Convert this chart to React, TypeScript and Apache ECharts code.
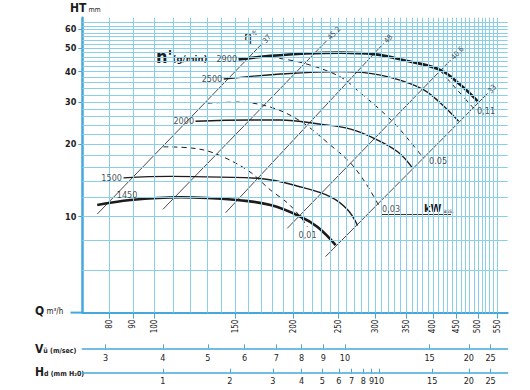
import React, { useEffect, useRef } from 'react';
import * as echarts from 'echarts';

// ---- axis ticks / labels ----
const qTicks = [80, 90, 100, 150, 200, 250, 300, 350, 400, 450, 500, 550];
const hTicks = [10, 20, 30, 40, 50, 60];
const gridQ = [80, 90, 100, 110, 120, 130, 140, 150, 160, 170, 180, 190, 200, 210, 220, 230, 240, 250, 260, 270, 280, 290, 300, 310, 320, 330, 340, 350, 360, 370, 380, 390, 400, 410, 420, 430, 440, 450, 460, 470, 480, 490, 500, 510, 520, 530, 540, 550];
const gridH = [6, 8, 10, 12, 14, 16, 18, 20, 22, 24, 26, 28, 30, 32, 34, 36, 38, 40, 42, 44, 46, 48, 50, 52, 54, 56, 58, 60, 62, 64];

// nomogram scales: value labels and the flow Q at which they sit
const vLabels = ['3', '4', '5', '6', '7', '8', '9', '10', '15', '20', '25'];
const vAtQ = [78.6, 104.5, 130.6, 156.8, 183.6, 208.2, 231.9, 258.2, 393.3, 478.2, 532.7];
const hdLabels = ['1', '2', '3', '4', '5', '6', '7', '8', '9', '10', '15', '20', '25'];
const hdAtQ = [104.5, 145.8, 180.5, 208.2, 230.7, 250.6, 266.9, 282.9, 294.8, 305.8, 398.6, 478.2, 532.7];

// ---- speed curves (Q m3/h, HT mm) ----
const n2900 = [[152.2, 45.0], [178.4, 46.5], [212.4, 47.6], [252.8, 48.0], [297.8, 47.3], [352.6, 44.3], [415.5, 40.6], [458.9, 35.2], [499.4, 30.2]];
const n2500 = [[141.4, 37.3], [187.6, 39.1], [252.8, 40.0], [308.3, 38.7], [376.2, 34.2], [415.5, 29.6], [454.4, 24.9]];
const n2000 = [[122.9, 24.9], [161.6, 25.2], [187.6, 25.2], [228.8, 24.2], [265.6, 23.1], [297.8, 21.2], [335.6, 18.6], [361.5, 15.9]];
const n1500 = [[85.9, 14.5], [108.5, 14.7], [139.2, 14.6], [169.8, 14.4], [210.3, 13.2], [240.5, 12.1], [261.7, 10.7], [275.0, 9.2]];
const n1450 = [[75.4, 11.18], [89.0, 11.73], [114.1, 12.04], [151.2, 11.73], [178.4, 11.18], [207.2, 10.0], [225.4, 9.06], [246.6, 7.63]];

// ---- absorbed power curves (kW) ----
const p001 = [[104.8, 19.5], [119.9, 19.3], [134.4, 18.4], [159.2, 15.6], [178.4, 12.9], [194.2, 11.4], [207.2, 9.97], [214.5, 9.06]];
const p003 = [[130.5, 29.6], [151.4, 29.9], [178.4, 28.5], [207.2, 24.9], [240.5, 19.8], [265.6, 16.7], [286.2, 13.8], [305.3, 11.18]];
const p005 = [[178.4, 46.0], [210.3, 43.4], [252.8, 38.0], [279.1, 32.6], [308.3, 27.7], [335.6, 23.6], [357.9, 20.4], [381.8, 17.5]];
const p011 = [[415.5, 40.2], [447.7, 34.2], [489.4, 28.2]];

// ---- efficiency lines (eta %) ----
const e37 = [[75.4, 10.26], [171.3, 52.4]];
const e452 = [[104.5, 10.73], [236.6, 54.1]];
const e48 = [[142.7, 10.39], [313.0, 52.4]];
const e406 = [[193.9, 8.95], [436.7, 44.7]];
const e33 = [[234.5, 6.83], [524.8, 32.5]];

const FONT = "'Liberation Sans Narrow', 'DejaVu Sans Condensed', 'Liberation Sans', 'Roboto', sans-serif";
const GRID = '#89cfea';
const AXIS = '#46a7da';
const INK = '#1c1c1c';

function nearestLabel(values: number[], labels: string[], v: number) {
  let best = 0;
  let bd = Infinity;
  values.forEach((x, i) => {
    const d = Math.abs(Math.log(x) - Math.log(v));
    if (d < bd) { bd = d; best = i; }
  });
  return labels[best];
}

function curve(data: number[][], width: number, dashed = false, smooth: number | boolean = 0.4) {
  return {
    type: 'line', xAxisIndex: 0, yAxisIndex: 0, data, smooth, symbol: 'none', silent: true, z: 3,
    lineStyle: { color: INK, width, type: dashed ? [5, 4] : 'solid' },
  };
}

const lbl = (pos: any, extra: any = {}) => ({
  show: true, position: pos, formatter: '{b}', color: INK, fontFamily: FONT, fontSize: 9, ...extra,
});

export default function App() {
  const ref = useRef<HTMLDivElement>(null);
  useEffect(() => {
    const chart = echarts.init(ref.current!, null, { renderer: 'svg' });
    const gridLeft = 82.3;
    const gridWidth = 425.4;
    const effLabel = lbl([2, -1], { rotate: 46, fontSize: 7.5, verticalAlign: 'middle' });
    const option: any = {
      animation: false,
      backgroundColor: '#ffffff',
      grid: [
        { left: gridLeft, top: 17.7, width: gridWidth, height: 294.9, outerBoundsMode: 'none' },
        { left: gridLeft, top: 330, width: gridWidth, height: 18.3, outerBoundsMode: 'none' },
        { left: gridLeft, top: 355, width: gridWidth, height: 17.7, outerBoundsMode: 'none' },
      ],
      xAxis: [
        {
          gridIndex: 0, type: 'log', logBase: 10, min: 70, max: 580,
          axisLine: { show: true, lineStyle: { color: AXIS, width: 2 } },
          axisTick: { show: true, customValues: qTicks, length: 6, lineStyle: { color: AXIS, width: 1 } },
          axisLabel: { customValues: qTicks, rotate: 90, margin: 7, fontSize: 8, fontFamily: FONT, color: INK, formatter: (v: number) => String(Math.round(v)) },
          splitLine: { show: false }, minorTick: { show: false }, minorSplitLine: { show: false },
        },
        {
          gridIndex: 1, type: 'log', logBase: 10, min: 70, max: 580,
          axisLine: { show: true, lineStyle: { color: AXIS, width: 1.5 } },
          axisTick: { show: true, inside: true, customValues: vAtQ, length: 4, lineStyle: { color: AXIS } },
          axisLabel: { customValues: vAtQ, margin: 5, fontSize: 9, fontFamily: FONT, color: INK, formatter: (v: number) => nearestLabel(vAtQ, vLabels, v) },
          splitLine: { show: false },
        },
        {
          gridIndex: 2, type: 'log', logBase: 10, min: 70, max: 580,
          axisLine: { show: true, lineStyle: { color: AXIS, width: 1.5 } },
          axisTick: { show: true, inside: true, customValues: hdAtQ, length: 4, lineStyle: { color: AXIS } },
          axisLabel: { customValues: hdAtQ, margin: 4, fontSize: 9, fontFamily: FONT, color: INK, formatter: (v: number) => nearestLabel(hdAtQ, hdLabels, v) },
          splitLine: { show: false },
        },
      ],
      yAxis: [
        {
          gridIndex: 0, type: 'log', logBase: 10, min: 4, max: 67,
          axisLine: { show: true, lineStyle: { color: AXIS, width: 2.5 } },
          axisTick: { show: true, customValues: hTicks, length: 4, lineStyle: { color: AXIS } },
          axisLabel: { customValues: hTicks, margin: 6, fontSize: 9, fontWeight: 'bold', fontFamily: FONT, color: INK, formatter: (v: number) => String(Math.round(v)) },
          splitLine: { show: false }, minorTick: { show: false },
        },
        { gridIndex: 1, type: 'value', show: false },
        { gridIndex: 2, type: 'value', show: false },
      ],
      series: [
        {
          type: 'line', xAxisIndex: 0, yAxisIndex: 0, data: [[100, 10]], symbol: 'none', silent: true, z: 0,
          markLine: {
            silent: true, symbol: ['none', 'none'], label: { show: false }, animation: false,
            lineStyle: { color: GRID, width: 1, type: 'solid' },
            emphasis: { disabled: true },
            data: [
              ...gridQ.map((q) => ({ xAxis: q })),
              ...gridH.map((h) => ({ yAxis: h })),
            ],
          },
        },
        // efficiency lines
        ...[e37, e452, e48, e406, e33].map((d) => curve(d, 0.8, false, false)),
        // power curves
        ...[p001, p003, p005, p011].map((d) => curve(d, 1, true, 0.35)),
        // speed curves
        curve(n2900, 2.6),
        curve(n2500, 1.4),
        curve(n2000, 1.4),
        curve(n1500, 1.4),
        curve(n1450, 2.6),
        // labels
        {
          type: 'scatter', xAxisIndex: 0, yAxisIndex: 0, symbolSize: 1, silent: true, z: 5,
          itemStyle: { color: 'rgba(0,0,0,0)' },
          data: [
            { name: '2900', value: n2900[0], label: lbl('left', { distance: 1 }) },
            { name: '2500', value: n2500[0], label: lbl('left', { distance: 1 }) },
            { name: '2000', value: n2000[0], label: lbl('left', { distance: 1 }) },
            { name: '1500', value: n1500[0], label: lbl('left', { distance: 1 }) },
            { name: '1450', value: n1450[0], label: lbl([20, -14], { verticalAlign: 'top' }) },
            { name: '0,01', value: p001[p001.length - 1], label: lbl('bottom', { distance: 3 }) },
            { name: '0,03', value: p003[p003.length - 1], label: lbl([4, 0], { verticalAlign: 'top' }) },
            { name: '0.05', value: p005[p005.length - 1], label: lbl([6, -1], { verticalAlign: 'top' }) },
            { name: '0,11', value: p011[p011.length - 1], label: lbl([4, -1], { verticalAlign: 'top' }) },
            { name: '37', value: e37[1], label: effLabel },
            { name: '45.2', value: e452[1], label: effLabel },
            { name: '48', value: e48[1], label: effLabel },
            { name: '40.6', value: e406[1], label: effLabel },
            { name: '33', value: e33[1], label: effLabel },
          ],
        },
      ],
      graphic: [
        {
          type: 'text', left: 70, top: 2, silent: true,
          style: { text: '{a|HT}{b| mm}', rich: { a: { fontSize: 12, fontWeight: 'bold', fontFamily: FONT, fill: INK }, b: { fontSize: 7, fontFamily: FONT, fill: INK, padding: [4, 0, 0, 0] } } },
        },
        {
          type: 'text', left: 156, top: 47, silent: true,
          style: { text: "{n|n'}{g|(g/min)}", rich: { n: { fontSize: 18, fontWeight: 'bold', fontFamily: FONT, fill: INK }, g: { fontSize: 9.5, fontWeight: 'bold', fontFamily: FONT, fill: INK, padding: [5, 0, 0, 0] } } },
        },
        {
          type: 'text', left: 244, top: 29, silent: true,
          style: { text: '{e|η}{p|%}', rich: { e: { fontSize: 14, fontFamily: FONT, fill: INK }, p: { fontSize: 6, fontFamily: FONT, fill: INK, padding: [0, 0, 8, 0] } } },
        },
        {
          type: 'text', left: 35, top: 305, silent: true,
          style: { text: '{q|Q}{u| m³/h}', rich: { q: { fontSize: 12, fontWeight: 'bold', fontFamily: FONT, fill: INK }, u: { fontSize: 8, fontFamily: FONT, fill: INK } } },
        },
        {
          type: 'text', left: 35, top: 343, silent: true,
          style: { text: '{v|V}{u|ü (m/sec)}', rich: { v: { fontSize: 12, fontWeight: 'bold', fontFamily: FONT, fill: INK }, u: { fontSize: 7, fontWeight: 'bold', fontFamily: FONT, fill: INK, padding: [3, 0, 0, 0] } } },
        },
        {
          type: 'text', left: 35, top: 366, silent: true,
          style: { text: '{v|H}{u|d (mm H₂0)}', rich: { v: { fontSize: 12, fontWeight: 'bold', fontFamily: FONT, fill: INK }, u: { fontSize: 7, fontWeight: 'bold', fontFamily: FONT, fill: INK, padding: [3, 0, 0, 0] } } },
        },
        {
          type: 'text', left: 424, top: 203, silent: true,
          style: { text: '{k|kW}{a| ass.}', rich: { k: { fontSize: 11, fontWeight: 'bold', fontFamily: FONT, fill: INK }, a: { fontSize: 6, fontFamily: FONT, fill: INK, padding: [4, 0, 0, 0] } } },
        },
        {
          type: 'line', silent: true,
          shape: { x1: 381.7, y1: 214.5, x2: 451, y2: 214.5 },
          style: { stroke: '#333', lineWidth: 1 },
        },
        {
          type: 'line', silent: true,
          shape: { x1: 70.5, y1: 312.6, x2: 82.3, y2: 312.6 },
          style: { stroke: AXIS, lineWidth: 2 },
        },
      ],
    };
    chart.setOption(option);
    return () => chart.dispose();
  }, []);
  return <div ref={ref} style={{ position: 'fixed', left: 0, top: 0, width: 530, height: 390, background: '#fff' }} />;
}
